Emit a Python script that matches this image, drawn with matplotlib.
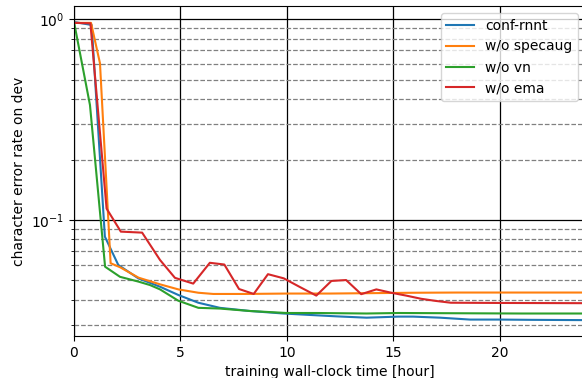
import numpy as np
import matplotlib
matplotlib.use("Agg")
import matplotlib.pyplot as plt

# values (hours, character error rate)
hours_base = [0, 0.83, 1.45, 2.08, 3.02, 4.04, 4.9, 5.84, 6.85, 8.26, 9.83,
              11.39, 12.33, 13.74, 15.23, 15.93, 17.2, 18.6, 20.0, 21.5, 24]
cer_base = [0.97, 0.937, 0.0826, 0.0597, 0.0512, 0.0465, 0.0423, 0.0387, 0.0365,
            0.0352, 0.0342, 0.0335, 0.0331, 0.0326, 0.0330, 0.0330, 0.0326,
            0.0319, 0.0319, 0.0318, 0.0317]

hours_specaug = [0, 0.8, 1.22, 1.72, 2.17, 3.03, 4.04, 4.9, 5.84, 6.54, 8.0,
                 10, 12, 14, 16, 18, 20, 22, 24]
cer_specaug = [0.96, 0.96, 0.604, 0.0609, 0.0581, 0.0516, 0.0478, 0.0451, 0.0434,
               0.0428, 0.0428, 0.0430, 0.0430, 0.0432, 0.0434, 0.0435, 0.0435,
               0.0435, 0.0435]

hours_vn = [0, 0.75, 1.46, 2.16, 3.03, 3.57, 4.04, 4.9, 5.84, 6.85, 8.26, 9.99,
            11.39, 13.74, 15.23, 18, 21, 24]
cer_vn = [0.97, 0.374, 0.0585, 0.0521, 0.0493, 0.0474, 0.0451, 0.0396, 0.0365,
          0.0362, 0.0352, 0.0344, 0.0344, 0.0342, 0.0344, 0.0343, 0.0342, 0.0342]

hours_ema = [0, 0.77, 1.53, 2.2, 3.2, 4.04, 4.74, 5.6, 6.38, 7.06, 7.75, 8.44,
             9.11, 9.85, 10.6, 11.38, 12.09, 12.78, 13.49, 14.2, 14.9, 15.6,
             16.3, 17.0, 17.7, 20, 24]
cer_ema = [0.96, 0.955, 0.114, 0.0875, 0.0865, 0.0632, 0.0515, 0.0482, 0.0612,
           0.0600, 0.0453, 0.0428, 0.0537, 0.0512, 0.0464, 0.0420, 0.0497,
           0.0502, 0.0427, 0.0451, 0.0434, 0.0420, 0.0405, 0.0395, 0.0387,
           0.0386, 0.0385]

labels = ["conf-rnnt", "w/o specaug", "w/o vn", "w/o ema"]

W, H = 582, 378
fig = plt.figure(figsize=(W / 100, H / 100), dpi=100)
left, right, top, bottom = 74, 585, 6, 336
ax = fig.add_axes([left / W, 1 - bottom / H, (right - left) / W, (bottom - top) / H])

ax.plot(hours_base, cer_base, label=labels[0])
ax.plot(hours_specaug, cer_specaug, label=labels[1])
ax.plot(hours_vn, cer_vn, label=labels[2])
ax.plot(hours_ema, cer_ema, label=labels[3])

ax.set_yscale("log")
ax.set_xlim(0, 24)
ax.set_ylim(0.02642, 1.165)
ax.grid(which="major", color="black", linestyle="-", linewidth=0.9)
ax.grid(which="minor", axis="y", color="gray", linestyle="--", linewidth=0.9)
ax.set_xticks([0, 5, 10, 15, 20])

ax.set_xlabel("training wall-clock time [hour]")
ax.set_ylabel("character error rate on dev")
ax.legend(loc="upper right")

fig.savefig("out.png", dpi=100)
